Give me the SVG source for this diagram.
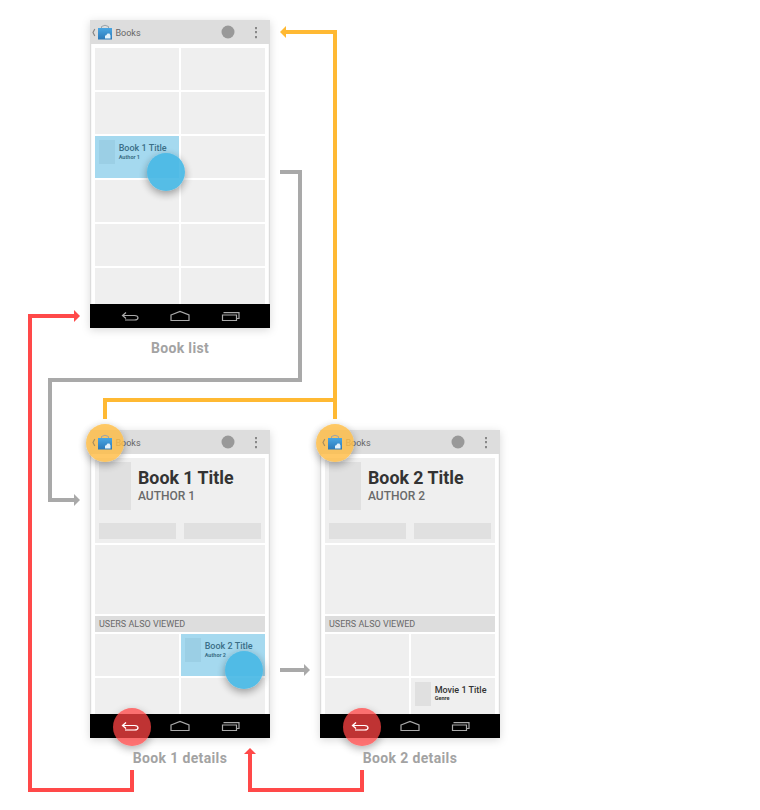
<svg xmlns="http://www.w3.org/2000/svg" width="760" height="810" viewBox="0 0 760 810">
<style>
text{font-family:Roboto,"Liberation Sans",sans-serif}
.bar{fill:#dddddd}
.cell{fill:#efefef}
.thumb{fill:#e0e0e0}
.sel{fill:#a5d9ef}
.selthumb{fill:#9bcfe5}
.nav{fill:#000}
.scr{fill:#fff;stroke:none}
.edge{fill:#dcdcdc}
.ab{font-size:9px;fill:#666}
.t{font-size:9px;font-weight:500;fill:#3b6f88}
.s{font-size:5.5px;font-weight:700;fill:#3b6f88}
.mt{font-size:9px;font-weight:500;fill:#333}
.ms{font-size:5.5px;font-weight:700;fill:#333}
.title{font-size:17.8px;font-weight:700;fill:#333}
.author{font-size:12px;font-weight:500;fill:#6a6a6a}
.sec{font-size:9px;fill:#6a6a6a}
.label{font-size:14px;font-weight:700;fill:#a3a3a3;text-anchor:middle;letter-spacing:.35px}
.c{fill:none;stroke-width:4;stroke-linejoin:miter}
.navi{fill:none;stroke:#aaa;stroke-width:1.2}
.y{fill:#ffbd44;opacity:.82}
.b{fill:#4ab9e6;opacity:.92}
.r{fill:#ff4444;opacity:.75}
</style>
<defs>
<filter id="sh" x="-15%" y="-15%" width="130%" height="130%"><feDropShadow dx="0" dy="2" stdDeviation="4" flood-color="#000" flood-opacity=".15"/></filter>
<filter id="csh" x="-50%" y="-50%" width="200%" height="200%"><feDropShadow dx="0" dy="3" stdDeviation="4" flood-color="#000" flood-opacity=".4"/></filter>
<linearGradient id="bag" x1="0" y1="0" x2="0" y2="1"><stop offset="0" stop-color="#4aa6e2"/><stop offset="1" stop-color="#2a78b8"/></linearGradient>
<marker id="hy" markerUnits="userSpaceOnUse" markerWidth="6" markerHeight="12" refX="0" refY="6" orient="auto"><path d="M0 0L6 6L0 12Z" fill="#ffb933"/></marker>
<marker id="hg" markerUnits="userSpaceOnUse" markerWidth="6" markerHeight="12" refX="0" refY="6" orient="auto"><path d="M0 0L6 6L0 12Z" fill="#a9a9a9"/></marker>
<marker id="hr" markerUnits="userSpaceOnUse" markerWidth="6" markerHeight="12" refX="0" refY="6" orient="auto"><path d="M0 0L6 6L0 12Z" fill="#ff4949"/></marker>
<g id="icon">
<path d="M3.500 0L3.500 -1.500Q7 -4 10.500 -1.500L10.500 0" fill="none" stroke="#9aa4ab" stroke-width="1"/>
<rect x="0" y="0" width="14" height="11.500" fill="url(#bag)"/>
<path d="M8 7.500L9.500 5.500L11.500 5.500L12.500 7.500L12.500 10.500L7 10.500L7 7.500Z" fill="#e3f2fb"/>
</g>
<g id="actions">
<circle cx="138" cy="12" r="6.500" fill="#999"/>
<rect x="165" y="7" width="2" height="2.200" fill="#888"/>
<rect x="165" y="11" width="2" height="2.200" fill="#888"/>
<rect x="165" y="16" width="2" height="2.200" fill="#888"/>
</g>
<g id="navbar">
<rect class="nav" x="0" y="0" width="180" height="24"/>
<path class="navi" d="M36 8.500L32.500 11.500L36 14.500"/>
<path class="navi" d="M33 11.500L44.500 11.500Q48 11.500 48 13.800Q48 16 44.500 16L35 16"/>
<path class="navi" d="M81 11L90 7.500L99 11L99 16.500L81 16.500Z"/>
<path class="navi" d="M132.500 11H146.500V16.500H132.500Z"/>
<path class="navi" d="M133.500 8.700H149V14.500H147"/>
</g>
</defs>

<g id="connectors">
<path class="c" stroke="#ffb933" d="M335 419V32H286" marker-end="url(#hy)"/>
<path class="c" stroke="#ffb933" d="M105 419V400H335"/>
<path class="c" stroke="#a9a9a9" d="M280 172H300V380H50V500H74" marker-end="url(#hg)"/>
<path class="c" stroke="#a9a9a9" d="M280 670H304" marker-end="url(#hg)"/>
<path class="c" stroke="#ff4949" d="M132 770V790H30V316H74" marker-end="url(#hr)"/>
<path class="c" stroke="#ff4949" d="M362 770V790H250V754" marker-end="url(#hr)"/>
</g>

<g id="book-list">
<rect class="scr" x="90" y="20" width="180" height="308" filter="url(#sh)"/>
<rect class="edge" x="90" y="44" width="1.200" height="260"/>
<rect class="edge" x="268.800" y="44" width="1.200" height="260"/>
<rect class="bar" x="90" y="20" width="180" height="24"/>
<use href="#actions" x="90" y="20"/>
<path d="M94.800 29L93 32.500L94.800 36" fill="none" stroke="#888" stroke-width="1.200"/>
<use href="#icon" x="98" y="28"/>
<text class="ab" x="115.500" y="36">Books</text>
<rect class="cell" x="95" y="48" width="84" height="42"/><rect class="cell" x="181" y="48" width="84" height="42"/>
<rect class="cell" x="95" y="92" width="84" height="42"/><rect class="cell" x="181" y="92" width="84" height="42"/>
<rect class="sel" x="95" y="136" width="84" height="42"/><rect class="cell" x="181" y="136" width="84" height="42"/>
<rect class="cell" x="95" y="180" width="84" height="42"/><rect class="cell" x="181" y="180" width="84" height="42"/>
<rect class="cell" x="95" y="224" width="84" height="42"/><rect class="cell" x="181" y="224" width="84" height="42"/>
<rect class="cell" x="95" y="268" width="84" height="36"/><rect class="cell" x="181" y="268" width="84" height="36"/>
<rect class="selthumb" x="99" y="140" width="16" height="24"/>
<text class="t" x="118.700" y="151">Book 1 Title</text>
<text class="s" x="118.700" y="159">Author 1</text>
<circle class="b" cx="166" cy="172" r="19" filter="url(#csh)"/>
<use href="#navbar" x="90" y="304"/>
<text class="label" x="180" y="353">Book list</text>
</g>

<g id="book-1-details">
<rect class="scr" x="90" y="430" width="180" height="308" filter="url(#sh)"/>
<rect class="edge" x="90" y="454" width="1.200" height="260"/>
<rect class="edge" x="268.800" y="454" width="1.200" height="260"/>
<rect class="bar" x="90" y="430" width="180" height="24"/>
<use href="#actions" x="90" y="430"/>
<text class="ab" x="115.500" y="446">Books</text>
<rect class="cell" x="95" y="458" width="170" height="85"/>
<rect class="thumb" x="99" y="462" width="32" height="48"/>
<text class="title" x="138" y="484">Book 1 Title</text>
<text class="author" x="138" y="500">AUTHOR 1</text>
<rect class="thumb" x="99" y="523" width="77" height="16"/>
<rect class="thumb" x="184" y="523" width="77" height="16"/>
<rect class="cell" x="95" y="545" width="170" height="69"/>
<rect class="bar" x="95" y="616" width="170" height="16"/>
<text class="sec" x="99" y="627">USERS ALSO VIEWED</text>
<rect class="cell" x="95" y="634" width="84" height="42"/>
<rect class="sel" x="181" y="634" width="84" height="42"/>
<rect class="selthumb" x="185" y="638" width="16" height="24"/>
<text class="t" x="204.700" y="649">Book 2 Title</text>
<text class="s" x="204.700" y="657">Author 2</text>
<rect class="cell" x="95" y="678" width="84" height="36"/>
<rect class="cell" x="181" y="678" width="84" height="36"/>
<circle class="b" cx="244" cy="670" r="19" filter="url(#csh)"/>
<use href="#navbar" x="90" y="714"/>
<circle class="y" cx="105" cy="443" r="19" filter="url(#csh)"/>
<use href="#icon" x="98" y="438"/>
<path d="M94.800 439L93 442.500L94.800 446" fill="none" stroke="#a89060" stroke-width="1.200"/>
<circle class="r" cx="132" cy="727" r="19" filter="url(#csh)"/>
<path d="M126 722.500L122.500 725.500L126 728.500M123 725.500H134.500Q138 725.500 138 727.800Q138 730 134.500 730H125" fill="none" stroke="#fff" stroke-width="1.200"/>
<text class="label" x="180" y="763">Book 1 details</text>
</g>

<g id="book-2-details">
<rect class="scr" x="320" y="430" width="180" height="308" filter="url(#sh)"/>
<rect class="edge" x="320" y="454" width="1.200" height="260"/>
<rect class="edge" x="498.800" y="454" width="1.200" height="260"/>
<rect class="bar" x="320" y="430" width="180" height="24"/>
<use href="#actions" x="320" y="430"/>
<text class="ab" x="345.500" y="446">Books</text>
<rect class="cell" x="325" y="458" width="170" height="85"/>
<rect class="thumb" x="329" y="462" width="32" height="48"/>
<text class="title" x="368" y="484">Book 2 Title</text>
<text class="author" x="368" y="500">AUTHOR 2</text>
<rect class="thumb" x="329" y="523" width="77" height="16"/>
<rect class="thumb" x="414" y="523" width="77" height="16"/>
<rect class="cell" x="325" y="545" width="170" height="69"/>
<rect class="bar" x="325" y="616" width="170" height="16"/>
<text class="sec" x="329" y="627">USERS ALSO VIEWED</text>
<rect class="cell" x="325" y="634" width="84" height="42"/>
<rect class="cell" x="411" y="634" width="84" height="42"/>
<rect class="cell" x="325" y="678" width="84" height="36"/>
<rect class="cell" x="411" y="678" width="84" height="36"/>
<rect class="thumb" x="415" y="682" width="16" height="24"/>
<text class="mt" x="434.700" y="693">Movie 1 Title</text>
<text class="ms" x="434.700" y="700">Genre</text>
<use href="#navbar" x="320" y="714"/>
<circle class="y" cx="335" cy="443" r="19" filter="url(#csh)"/>
<use href="#icon" x="328" y="438"/>
<path d="M324.800 439L323 442.500L324.800 446" fill="none" stroke="#a89060" stroke-width="1.200"/>
<circle class="r" cx="362" cy="727" r="19" filter="url(#csh)"/>
<path d="M356 722.500L352.500 725.500L356 728.500M353 725.500H364.500Q368 725.500 368 727.800Q368 730 364.500 730H355" fill="none" stroke="#fff" stroke-width="1.200"/>
<text class="label" x="410" y="763">Book 2 details</text>
</g>
</svg>
